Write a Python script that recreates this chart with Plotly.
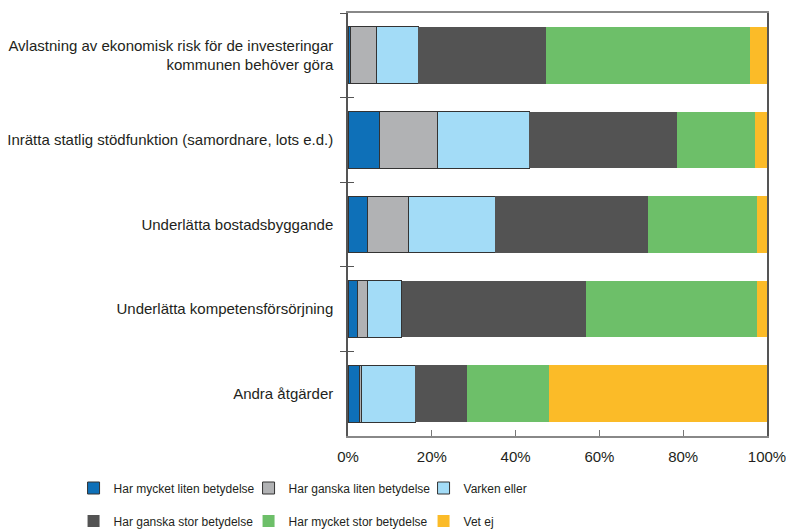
import plotly.graph_objects as go

categories = [
    "Avlastning av ekonomisk risk för de investeringar<br>kommunen behöver göra",
    "Inrätta statlig stödfunktion (samordnare, lots e.d.)",
    "Underlätta bostadsbyggande",
    "Underlätta kompetensförsörjning",
    "Andra åtgärder",
]
series_names = [
    "Har mycket liten betydelse",
    "Har ganska liten betydelse",
    "Varken eller",
    "Har ganska stor betydelse",
    "Har mycket stor betydelse",
    "Vet ej",
]
mycket_liten = [0.5, 7.5, 4.7, 2.3, 2.8]
ganska_liten = [6.3, 13.9, 9.8, 2.4, 0.5]
varken_eller = [10.0, 21.9, 20.7, 8.1, 12.8]
ganska_stor = [30.5, 35.3, 36.5, 43.9, 12.2]
mycket_stor = [48.6, 18.5, 26.0, 41.0, 19.6]
vet_ej = [4.1, 2.9, 2.3, 2.3, 52.1]
x_tick_vals = [0, 20, 40, 60, 80, 100]
x_tick_text = ["0%", "20%", "40%", "60%", "80%", "100%"]

values = [mycket_liten, ganska_liten, varken_eller, ganska_stor, mycket_stor, vet_ej]
colors = ["#0E70B8", "#B1B2B4", "#A3DCF7", "#535353", "#6DBF69", "#FBBB28"]
outlines = [True, True, True, False, False, False]

FONT = "Liberation Sans, Arial, sans-serif"

fig = go.Figure()
for i, (name, vals, col, ol) in enumerate(zip(series_names, values, colors, outlines)):
    fig.add_trace(go.Bar(
        name=name, y=categories, x=vals, orientation="h",
        marker=dict(color=col, line=dict(color="#333333" if ol else col, width=1 if ol else 0)),
        legend="legend" if i < 3 else "legend2",
    ))

# dummy trace for the inner tick marks axis
fig.add_trace(go.Scatter(x=[0] * len(categories), y=categories, yaxis="y2", mode="lines",
                         opacity=0, showlegend=False, hoverinfo="skip"))

leg_common = dict(orientation="h", x=-0.655, xanchor="left", yanchor="middle",
                  traceorder="normal", entrywidth=130, entrywidthmode="pixels",
                  font=dict(size=12), itemwidth=30, bgcolor="rgba(0,0,0,0)")

fig.update_layout(
    width=786, height=530,
    margin=dict(l=348, r=19, t=13, b=94, autoexpand=False),
    barmode="stack", bargap=0.33,
    plot_bgcolor="white", paper_bgcolor="white",
    font=dict(family=FONT, size=15, color="#231F20"),
    xaxis=dict(range=[0, 100], tickvals=x_tick_vals, ticktext=x_tick_text,
               ticks="inside", ticklen=6, tickcolor="#777", showgrid=False, zeroline=False,
               showline=True, linecolor="#888", linewidth=1.5, mirror=True,
               ticklabeloverflow="allow", ticklabelstandoff=6,
               tickfont=dict(size=15)),
    yaxis=dict(categoryorder="array", categoryarray=categories, autorange="reversed",
               tickson="boundaries", ticks="outside", ticklen=6, tickcolor="#555",
               showline=True, linecolor="#555", linewidth=1.5, mirror=True, showgrid=False,
               ticklabelstandoff=10, tickfont=dict(size=15)),
    yaxis2=dict(overlaying="y", anchor="x", side="left",
                categoryorder="array", categoryarray=categories, autorange="reversed",
                tickson="boundaries", ticks="inside", ticklen=6, tickcolor="#555",
                showticklabels=False, showline=False, showgrid=False, matches="y"),
    legend=dict(leg_common, y=(436 - 488) / 423),
    legend2=dict(leg_common, y=(436 - 521) / 423),
    showlegend=True,
)

fig.write_html("out.html", config={"displayModeBar": False},
               post_script="document.body.style.margin='0';")
